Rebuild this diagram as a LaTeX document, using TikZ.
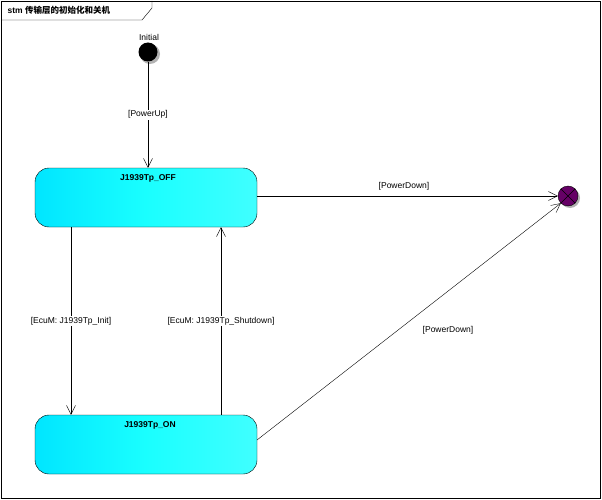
\documentclass[tikz,border=0pt]{standalone}
\usepackage{fontspec}
\setmainfont{Liberation Sans}
\newfontfamily\cjk{Noto Sans CJK SC}
\usetikzlibrary{arrows.meta}
\begin{document}
\begin{tikzpicture}[x=1pt,y=-1pt,font=\fontsize{8.5}{10}\selectfont,
  st/.style={draw=black,rounded corners=14pt,left color=cyan!90!blue,right color=cyan!75!white,middle color=cyan!90,minimum width=222pt,minimum height=59pt,inner sep=0pt},
  tr/.style={draw=black,-{Straight Barb[length=9pt,width=9pt]}},
  lb/.style={fill=white,inner sep=1pt}]
\useasboundingbox (0,0) rectangle (602,500);
\draw[fill=white] (1,1) rectangle (600,498);
\draw (1,20) -- (142,20) -- (152,8) -- (152,1);
\node[anchor=west] (title) at (4,10) {\textbf{stm {\cjk 传输层的初始化和关机}}};
\fill[gray!60] (150,54) circle (10);
\node[circle,fill=black,minimum size=19pt,inner sep=0pt] (init) at (148,52) {};
\node (initl) at (149,37) {Initial};
\fill[gray!60] (570,198) circle (10);
\node[circle,draw=black,fill=violet!80!black,minimum size=20pt,inner sep=0pt] (fin) at (568,196) {};
\draw (fin.north west) -- (fin.south east) (fin.north east) -- (fin.south west);
\node[st] (off) at (146,197.5) {};
\node[font=\fontsize{8.5}{10}\selectfont\bfseries] (offl) at (148,178) {J1939Tp\_OFF};
\node[st] (on) at (146,444.5) {};
\node[font=\fontsize{8.5}{10}\selectfont\bfseries] (onl) at (150,425) {J1939Tp\_ON};
\draw[tr] (init) -- node[lb]{[PowerUp]} (init |- off.north);
\draw[tr] (off.east |- fin) -- (fin);
\node (pd1) at (404,186) {[PowerDown]};
\draw[tr] ([xshift=-75pt]off.south) -- node[lb]{[EcuM: J1939Tp\_Init]} ([xshift=-75pt]on.north);
\draw[tr] ([xshift=75pt]on.north) -- node[lb]{[EcuM: J1939Tp\_Shutdown]} ([xshift=75pt]off.south);
\draw[tr] (257,440) -- (fin.south west);
\node (pd2) at (448,330) {[PowerDown]};
\end{tikzpicture}
\end{document}
